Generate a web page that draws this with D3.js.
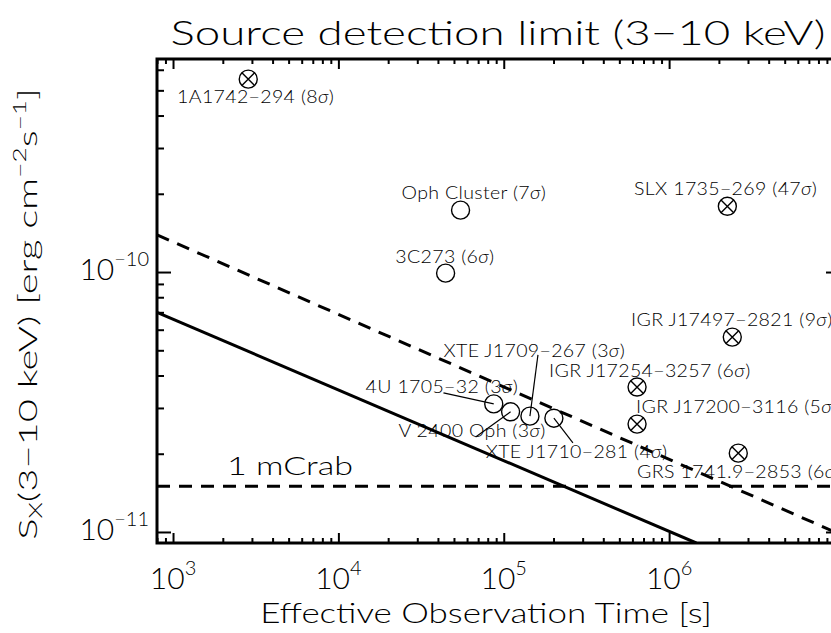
<!DOCTYPE html>
<html>
<head>
<meta charset="utf-8">
<script src="https://cdn.jsdelivr.net/npm/d3@7"></script>
<style>
  html, body { margin: 0; padding: 0; background: #fff; }
  svg { display: block; }
  text { font-family: "Lato", "Roboto", "DejaVu Sans", sans-serif; font-weight: 300; fill: #000; }
</style>
</head>
<body>
<svg id="chart" width="831" height="633"></svg>
<script>
// ---------------- data ----------------
const xDomain = [800, 1.08e7];         // effective observation time [s]
const yDomain = [9.07e-12, 6.6e-10];   // flux [erg cm^-2 s^-1]
const xMajorExp = [3, 4, 5, 6];
const yMajorExp = [-11, -10];

const sourceNames = ["1A1742-294 (8σ)", "Oph Cluster (7σ)", "3C273 (6σ)", "SLX 1735-269 (47σ)",
  "IGR J17497-2821 (9σ)", "IGR J17254-3257 (6σ)", "IGR J17200-3116 (5σ)", "GRS 1741.9-2853 (6σ)",
  "4U 1705-32 (3σ)", "V 2400 Oph (3σ)", "XTE J1709-267 (3σ)", "XTE J1710-281 (4σ)"];
const sourceTime = [2850, 5.48e4, 4.45e4, 2.25e6, 2.41e6, 6.4e5, 6.4e5, 2.62e6, 8.7e4, 1.10e5, 1.44e5, 2.01e5];
const sourceFlux = [5.52e-10, 1.73e-10, 9.9e-11, 1.79e-10, 5.62e-11, 3.61e-11, 2.6e-11, 2.01e-11, 3.11e-11, 2.9e-11, 2.79e-11, 2.74e-11];
const sourceCrossed = [true, false, false, true, true, true, true, true, false, false, false, false];
// label anchor (data coordinates, start of text baseline)
const labelTime = [1058, 2.41e4, 2.21e4, 6.14e5, 5.89e5, 1.88e5, 6.31e5, 6.4e5, 1.46e4, 2.31e4, 4.32e4, 7.78e4];
const labelFlux = [4.47e-10, 1.91e-10, 1.08e-10, 1.98e-10, 6.2e-11, 3.94e-11, 2.87e-11, 1.61e-11, 3.43e-11, 2.32e-11, 4.71e-11, 1.93e-11];
// leader lines: source index -> label end point (data coordinates)
const leaderSource = [8, 9, 10, 11];
const leaderTime = [4.32e4, 6.76e4, 1.61e5, 2.62e5];
const leaderFlux = [3.43e-11, 2.32e-11, 4.8e-11, 2.2e-11];

const limitSolidTime = [800, 1.46e6];
const limitSolidFlux = [7.0e-11, 9.07e-12];
const limitDashTime = [800, 1.08e7];
const limitDashFlux = [1.39e-10, 0.98e-11];
const mCrabFlux = 1.5e-11;
const mCrabLabel = "1 mCrab";
const mCrabLabelTime = 2123, mCrabLabelFlux = 1.66e-11;

// ---------------- layout ----------------
const L = 157, R = 840, T = 59, B = 543;
const svg = d3.select("#chart");
const x = d3.scaleLog().domain(xDomain).range([L, R]);
const y = d3.scaleLog().domain(yDomain).range([B, T]);

svg.append("defs").append("clipPath").attr("id", "plotclip")
  .append("rect").attr("x", L).attr("y", T).attr("width", R - L).attr("height", B - T);

// stretch a text (inside group g) horizontally to a target width, around anchor (ax, ay)
function stretchTo(g, text, targetW, ax, ay) {
  const w = text.node().getBBox().width;
  const s = targetW / w;
  g.attr("transform", `translate(${ax},${ay}) scale(${s},1) translate(${-ax},${-ay})`);
}
function stretchBy(g, s, ax, ay) {
  g.attr("transform", `translate(${ax},${ay}) scale(${s},1) translate(${-ax},${-ay})`);
}

// minor / major tick values
function decadeTicks(dom) {
  const lo = Math.floor(Math.log10(dom[0])), hi = Math.ceil(Math.log10(dom[1]));
  const major = [], minor = [];
  for (let k = lo; k <= hi; k++) {
    for (let m = 1; m <= 9; m++) {
      const v = m * Math.pow(10, k);
      if (v < dom[0] * 0.999 || v > dom[1] * 1.001) continue;
      (m === 1 ? major : minor).push(v);
    }
  }
  return {major, minor};
}
const xt = decadeTicks(xDomain), yt = decadeTicks(yDomain);
const xMajLen = 10, xMinLen = 5, yMajLen = 14, yMinLen = 7;

function drawAxis(axisFn, scale, vals, len, tx, ty) {
  const g = svg.append("g").attr("transform", `translate(${tx},${ty})`)
    .call(axisFn(scale).tickValues(vals).tickSize(-len).tickFormat(""));
  g.select(".domain").remove();
  g.selectAll(".tick line").attr("stroke", "#000").attr("stroke-width", 2);
  return g;
}
drawAxis(d3.axisBottom, x, xt.major, xMajLen, 0, B);
drawAxis(d3.axisBottom, x, xt.minor, xMinLen, 0, B);
drawAxis(d3.axisTop, x, xt.major, xMajLen, 0, T);
drawAxis(d3.axisTop, x, xt.minor, xMinLen, 0, T);
drawAxis(d3.axisLeft, y, yt.major, yMajLen, L, 0);
drawAxis(d3.axisLeft, y, yt.minor, yMinLen, L, 0);
drawAxis(d3.axisRight, y, yt.major, yMajLen, R, 0);
drawAxis(d3.axisRight, y, yt.minor, yMinLen, R, 0);

svg.append("rect").attr("x", L).attr("y", T).attr("width", R - L).attr("height", B - T)
  .attr("fill", "none").attr("stroke", "#000").attr("stroke-width", 3);

// tick labels
const tickFont = 30;
xMajorExp.forEach(e => {
  const t = svg.append("text").attr("x", x(Math.pow(10, e))).attr("y", B + 46)
    .attr("text-anchor", "middle").attr("font-size", tickFont);
  t.append("tspan").text("10");
  t.append("tspan").attr("dy", -14).attr("font-size", 20).text(String(e));
});
yMajorExp.forEach(e => {
  const t = svg.append("text").attr("x", 149).attr("y", y(Math.pow(10, e)) + 8)
    .attr("text-anchor", "end").attr("font-size", tickFont);
  t.append("tspan").text("10");
  t.append("tspan").attr("dy", -14).attr("font-size", 20).text("−" + String(-e));
});

// titles
{
  const g = svg.append("g");
  const cx = 498, by = 45;
  const t = g.append("text").attr("x", cx).attr("y", by).attr("text-anchor", "middle")
    .attr("font-size", 33).text("Source detection limit (3−10 keV)");
  stretchTo(g, t, 655, cx, by);
}
{
  const g = svg.append("g");
  const cx = 486, by = 623;
  const t = g.append("text").attr("x", cx).attr("y", by).attr("text-anchor", "middle")
    .attr("font-size", 27).text("Effective Observation Time [s]");
  stretchTo(g, t, 452, cx, by);
}
{
  const outer = svg.append("g").attr("transform", `translate(37,314) rotate(-90)`);
  const g = outer.append("g");
  const yl = g.append("text").attr("x", 0).attr("y", 0).attr("text-anchor", "middle").attr("font-size", 26);
  yl.append("tspan").text("S");
  yl.append("tspan").attr("font-size", 17).attr("dy", 5).text("X");
  yl.append("tspan").attr("dy", -5).text("(3−10 keV) [erg cm");
  yl.append("tspan").attr("font-size", 17).attr("dy", -11).text("−2");
  yl.append("tspan").attr("dy", 11).text("s");
  yl.append("tspan").attr("font-size", 17).attr("dy", -11).text("−1");
  yl.append("tspan").attr("dy", 11).text("]");
  stretchTo(g, yl, 452, 0, 0);
}

// ---------------- plot content ----------------
const plot = svg.append("g").attr("clip-path", "url(#plotclip)");
const line = d3.line().x(d => x(d[0])).y(d => y(d[1]));

plot.append("path").datum(limitSolidTime.map((t, i) => [t, limitSolidFlux[i]]))
  .attr("d", line).attr("fill", "none").attr("stroke", "#000").attr("stroke-width", 3);
plot.append("path").datum(limitDashTime.map((t, i) => [t, limitDashFlux[i]]))
  .attr("d", line).attr("fill", "none").attr("stroke", "#000").attr("stroke-width", 3)
  .attr("stroke-dasharray", "13,9");
plot.append("path").datum([[xDomain[0], mCrabFlux], [xDomain[1], mCrabFlux]])
  .attr("d", line).attr("fill", "none").attr("stroke", "#000").attr("stroke-width", 3)
  .attr("stroke-dasharray", "13,9");

{
  const g = svg.append("g");
  const ax = x(mCrabLabelTime), ay = y(mCrabLabelFlux);
  const t = g.append("text").attr("x", ax).attr("y", ay).attr("font-size", 26).text(mCrabLabel);
  stretchTo(g, t, 126, ax, ay);
}

// leader lines
leaderSource.forEach((si, i) => {
  plot.append("line")
    .attr("x1", x(sourceTime[si])).attr("y1", y(sourceFlux[si]))
    .attr("x2", x(leaderTime[i])).attr("y2", y(leaderFlux[i]))
    .attr("stroke", "#000").attr("stroke-width", 1.2);
});

// markers + labels
const r = 9;
const labelStretch = 1.15;
sourceNames.forEach((name, i) => {
  const cx = x(sourceTime[i]), cy = y(sourceFlux[i]);
  plot.append("circle").attr("cx", cx).attr("cy", cy).attr("r", r)
    .attr("fill", "none").attr("stroke", "#000").attr("stroke-width", 1.4);
  if (sourceCrossed[i]) {
    const d = r * Math.SQRT1_2;
    plot.append("path").attr("d", `M${cx - d},${cy - d}L${cx + d},${cy + d}M${cx + d},${cy - d}L${cx - d},${cy + d}`)
      .attr("stroke", "#000").attr("stroke-width", 1.4);
  }
  const m = name.match(/^(.*\()(\d+)σ\)$/);
  const ax = x(labelTime[i]), ay = y(labelFlux[i]);
  const g = svg.append("g");
  const t = g.append("text").attr("x", ax).attr("y", ay)
    .attr("font-size", 17).attr("letter-spacing", 0.3);
  t.append("tspan").text(m[1].replace(/-/g, "−") + m[2]);
  t.append("tspan").attr("font-style", "italic").text("σ");
  t.append("tspan").text(")");
  stretchBy(g, labelStretch, ax, ay);
});
</script>
</body>
</html>
